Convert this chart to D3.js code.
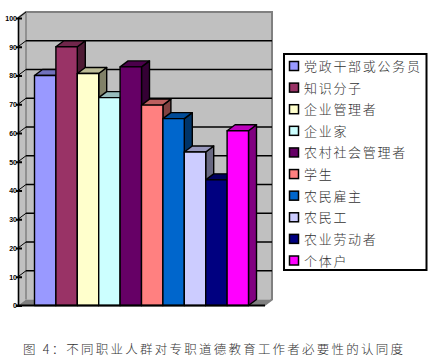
<!DOCTYPE html>
<html>
<head>
<meta charset="utf-8">
<script src="https://cdnjs.cloudflare.com/ajax/libs/d3/7.8.5/d3.min.js"></script>
<style>
html, body { margin: 0; padding: 0; background: #fff; }
svg { display: block; }
.axis text { font-family: "Liberation Sans", sans-serif; font-size: 7px; font-weight: bold; fill: #000; }
.legend text { font-family: "Noto Sans CJK SC", serif; font-size: 13px; font-weight: 300; fill: #333; letter-spacing: 1.7px; }
.caption { font-family: "Noto Sans CJK SC", serif; font-size: 12.5px; font-weight: 300; fill: #333; }
</style>
</head>
<body>
<div id="chart"></div>
<script>
var categories = ['党政干部或公务员', '知识分子', '企业管理者', '企业家', '农村社会管理者', '学生', '农民雇主', '农民工', '农业劳动者', '个体户']
var values = [80, 90, 80.7, 72.3, 83, 69.7, 65, 53.4, 43.7, 60.8]
var colors = ['#9999ff', '#993366', '#ffffcc', '#ccffff', '#660066', '#ff8080', '#0066cc', '#ccccff', '#000080', '#ff00ff']
var tickValues = [0, 10, 20, 30, 40, 50, 60, 70, 80, 90, 100]
var captionText = '图 4\uff1a不同职业人群对专职道德教育工作者必要性的认同度'

var width = 438
var height = 363
var depth = { x: 8, y: 6 }
var plot = { left: 18, right: 264, top: 18, bottom: 305.5 }

var scaleY = d3.scaleLinear().domain([0, 100]).range([plot.bottom, plot.top])
var scaleX = d3.scaleBand().domain(categories).range([34.5, 248.5])

var svg = d3.select('#chart').append('svg')
    .attr('width', width)
    .attr('height', height)

var poly = function(points) {
    return points.map(function(p) { return p.join(',') }).join(' ')
}

// walls and floor
var back = { x0: plot.left + depth.x, x1: plot.right + depth.x, y0: plot.top - depth.y, y1: plot.bottom - depth.y }
svg.append('rect')
    .attr('x', back.x0).attr('y', back.y0)
    .attr('width', back.x1 - back.x0).attr('height', back.y1 - back.y0)
    .attr('fill', '#c0c0c0')
svg.append('polygon')
    .attr('points', poly([[plot.left, plot.top], [back.x0, back.y0], [back.x0, back.y1], [plot.left, plot.bottom]]))
    .attr('fill', '#c0c0c0')
svg.append('polygon')
    .attr('points', poly([[plot.left, plot.bottom], [back.x0, back.y1], [back.x1, back.y1], [plot.right, plot.bottom]]))
    .attr('fill', '#808080')
svg.append('path')
    .attr('d', 'M' + plot.left + ',' + plot.top + 'L' + back.x0 + ',' + back.y0 + 'H' + back.x1 + 'V' + back.y1 + 'L' + plot.right + ',' + plot.bottom)
    .attr('fill', 'none').attr('stroke', '#808080').attr('stroke-width', 2)
svg.append('path')
    .attr('d', 'M' + back.x0 + ',' + back.y0 + 'V' + back.y1)
    .attr('fill', 'none').attr('stroke', '#808080').attr('stroke-width', 1.5)

// gridlines
svg.append('g').selectAll('line.grid')
    .data(tickValues.slice(1, -1))
    .enter().append('line')
    .attr('x1', back.x0).attr('x2', back.x1)
    .attr('y1', function(d) { return scaleY(d) - depth.y })
    .attr('y2', function(d) { return scaleY(d) - depth.y })
    .attr('stroke', '#000').attr('stroke-width', 1.6)
svg.append('g').selectAll('line.diag')
    .data(tickValues.slice(1))
    .enter().append('line')
    .attr('x1', plot.left).attr('x2', back.x0)
    .attr('y1', function(d) { return scaleY(d) })
    .attr('y2', function(d) { return scaleY(d) - depth.y })
    .attr('stroke', '#000').attr('stroke-width', 1)

// bars
var bars = svg.append('g').selectAll('g.bar')
    .data(categories)
    .enter().append('g')
    .attr('class', 'bar')
    .attr('stroke', '#000')
    .attr('stroke-width', 1.4)
    .attr('stroke-linejoin', 'round')

var barColor = function(i, k) {
    return d3.rgb(colors[i]).darker(k).formatHex()
}
var top_ = function(i) { return scaleY(values[i]) }

bars.append('polygon')
    .attr('points', function(d, i) {
        var x0 = scaleX(d)
        var x1 = x0 + scaleX.bandwidth()
        return poly([[x1, top_(i)], [x1 + depth.x, top_(i) - depth.y], [x1 + depth.x, plot.bottom - depth.y], [x1, plot.bottom]])
    })
    .attr('fill', function(d, i) { return barColor(i, 1.9) })
bars.append('polygon')
    .attr('points', function(d, i) {
        var x0 = scaleX(d)
        var x1 = x0 + scaleX.bandwidth()
        return poly([[x0, top_(i)], [x0 + depth.x, top_(i) - depth.y], [x1 + depth.x, top_(i) - depth.y], [x1, top_(i)]])
    })
    .attr('fill', function(d, i) { return barColor(i, 0.85) })
bars.append('rect')
    .attr('x', function(d) { return scaleX(d) })
    .attr('y', function(d, i) { return top_(i) })
    .attr('width', scaleX.bandwidth())
    .attr('height', function(d, i) { return plot.bottom - top_(i) })
    .attr('fill', function(d, i) { return colors[i] })

// axes
var axisY = d3.axisLeft().scale(scaleY)
    .tickValues(tickValues)
    .tickSize(0)
    .tickPadding(1)
svg.append('g')
    .attr('class', 'axis')
    .attr('transform', 'translate(' + plot.left + ',0)')
    .call(axisY)
    .call(function(g) { g.select('.domain').attr('stroke', '#000').attr('stroke-width', 1.6) })
    .call(function(g) {
        g.selectAll('.tick').append('line')
            .attr('x1', -2).attr('x2', 4)
            .attr('stroke', '#000').attr('stroke-width', 2)
    })
svg.append('line')
    .attr('x1', plot.left - 2).attr('x2', plot.right + 1)
    .attr('y1', plot.bottom).attr('y2', plot.bottom)
    .attr('stroke', '#000').attr('stroke-width', 2)

// legend
var legendY = d3.scalePoint().domain(categories).range([66, 260.5])
var legend = svg.append('g').attr('class', 'legend')
legend.append('rect')
    .attr('x', 284).attr('y', 54)
    .attr('width', 142.5).attr('height', 216)
    .attr('fill', '#fff').attr('stroke', '#000').attr('stroke-width', 2)
var items = legend.selectAll('g.item')
    .data(categories)
    .enter().append('g')
    .attr('class', 'item')
    .attr('transform', function(d) { return 'translate(0,' + legendY(d) + ')' })
items.append('rect')
    .attr('x', 289.5).attr('y', -4.5)
    .attr('width', 9).attr('height', 9)
    .attr('fill', function(d, i) { return colors[i] })
    .attr('stroke', '#000').attr('stroke-width', 1.5)
items.append('text')
    .attr('x', 304).attr('y', 5)
    .text(function(d) { return d })

// caption
svg.append('text')
    .attr('class', 'caption')
    .attr('x', 23).attr('y', 354)
    .attr('textLength', 380)
    .text(captionText)
</script>
</body>
</html>
